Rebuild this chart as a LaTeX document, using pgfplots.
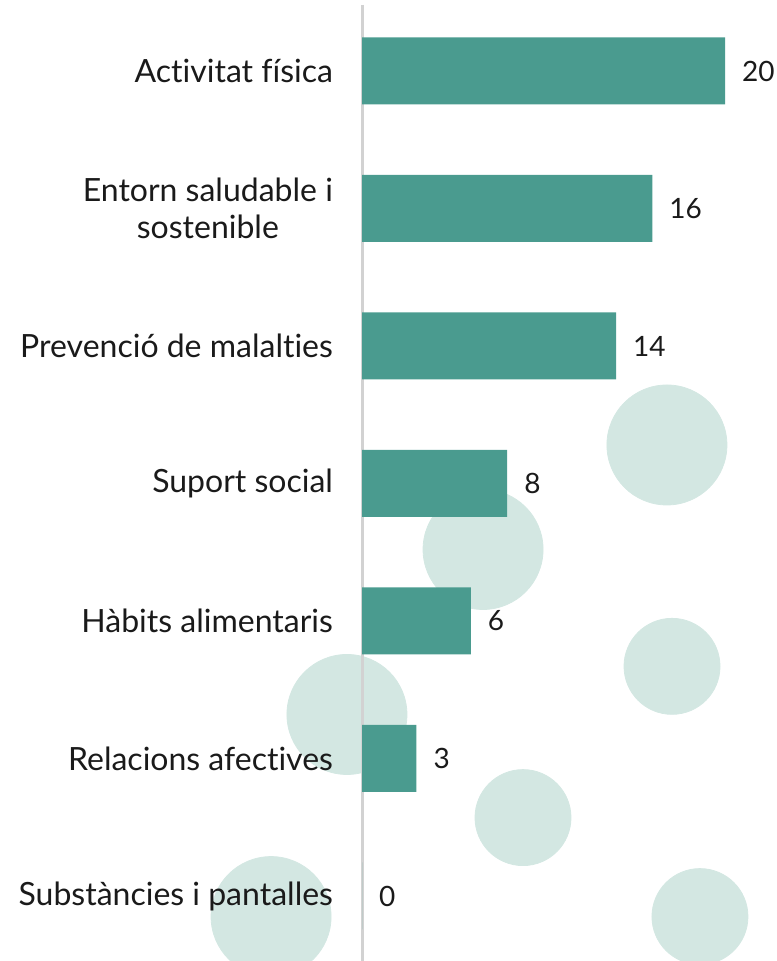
\documentclass[border=0pt]{standalone}
\usepackage{pgfplots}
\pgfplotsset{compat=1.18}
\usepackage{fontspec}
\setmainfont{Lato}[Ligatures=NoCommon]
\definecolor{bar}{HTML}{4A9B8F}
\definecolor{dot}{HTML}{D3E7E2}
\definecolor{axgray}{HTML}{D2D2D2}
\definecolor{txt}{HTML}{1A1A1A}
% 1 px of the reference = 0.5pt
\begin{document}
\begin{tikzpicture}
\begin{axis}[
    at={(181pt,0pt)}, anchor=south west,
    scale only axis,
    width=207pt, height=478pt,
    clip=false,
    set layers,
    xmin=0, xmax=22.81,
    ymin=-0.48, ymax=6.473,
    y dir=reverse,
    axis x line=none,
    axis y line*=left,
    y axis line style={axgray, line width=1.5pt, -},
    ytick={0,1,2,3,4,5,6},
    yticklabels={Activitat física, {Entorn saludable i\\sostenible}, Prevenció de malalties, Suport social, Hàbits alimentaris, Relacions afectives, Substàncies i pantalles},
    major tick length=0pt,
    yticklabel style={align=center, font=\fontsize{16}{18.5}\selectfont, text=txt, xshift=-11pt},
    /pgf/number format/assume math mode=true,
]
% decorative circles, behind everything
\addplot[on layer=axis background, mark layer=axis background, only marks, mark=*, mark size=30pt,
    mark options={draw=dot, fill=dot}, forget plot]
coordinates {(16.80,2.72) (6.67,3.48) (-0.83,4.68) (-5.01,6.15)};
\addplot[on layer=axis background, mark layer=axis background, only marks, mark=*, mark size=24pt,
    mark options={draw=dot, fill=dot}, forget plot]
coordinates {(17.08,4.33) (8.87,5.43) (18.62,6.15)};
\addplot[xbar, bar width=33.5pt, bar shift=0pt, fill=bar, draw=none,
    nodes near coords,
    nodes near coords style={anchor=west, xshift=5pt, font=\fontsize{14}{16}\selectfont, text=txt}]
coordinates {
    (20,0) (16,1) (14,2) (8,3) (6,4) (3,5) (0,6)
};
\end{axis}
\pgfresetboundingbox
\useasboundingbox (0,0) rectangle (388pt,480.5pt);
\end{tikzpicture}
\end{document}
